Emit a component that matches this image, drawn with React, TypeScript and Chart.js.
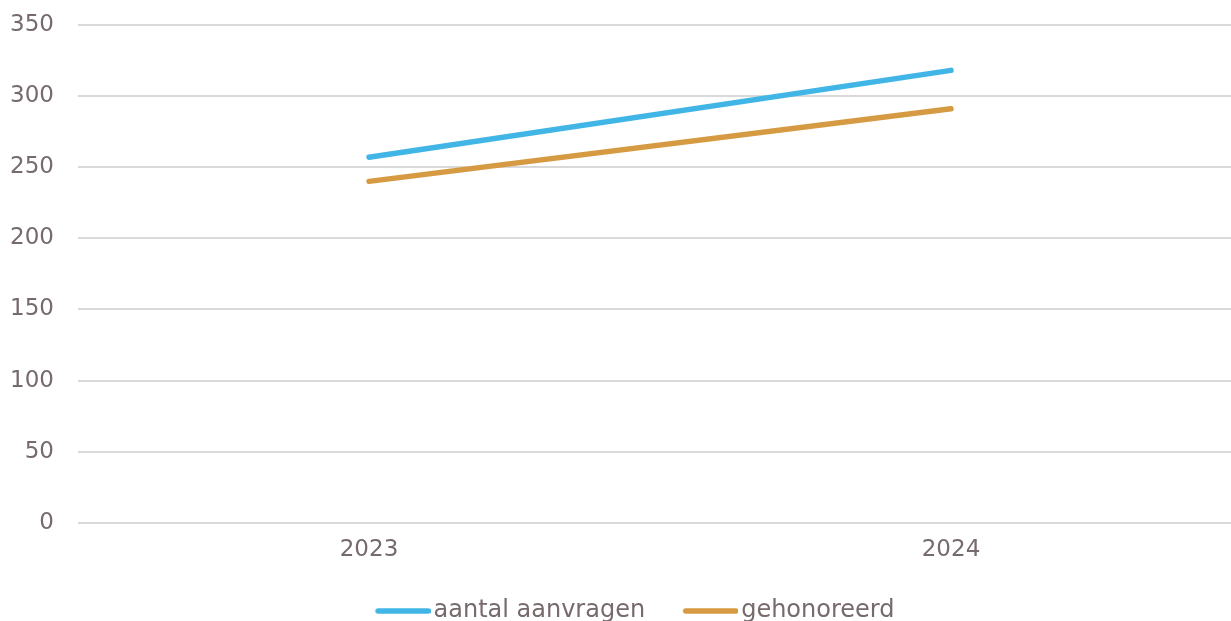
import React, { useEffect, useRef } from "react";
import { Chart, registerables } from "chart.js";

Chart.register(...registerables);

const categories = ["2023", "2024"];
const aanvragen = [257, 318];
const gehonoreerd = [240, 291];
const seriesNames = ["aantal aanvragen", "gehonoreerd"];
const seriesColors = ["#41b6e6", "#d69a42"];

const TEXT = "#766a6c";
const FONT = "'DejaVu Sans', Verdana, sans-serif";

// legend marker: a rounded line drawn on a small canvas, shifted right so it sits close to its text
function makeMarker(color: string): HTMLCanvasElement {
  const c = document.createElement("canvas");
  c.width = 82;
  c.height = 8;
  const ctx = c.getContext("2d")!;
  ctx.strokeStyle = color;
  ctx.lineWidth = 5.5;
  ctx.lineCap = "round";
  ctx.beginPath();
  ctx.moveTo(29.5, 4);
  ctx.lineTo(79.5, 4);
  ctx.stroke();
  return c;
}

export default function App() {
  const ref = useRef<HTMLCanvasElement | null>(null);
  useEffect(() => {
    document.body.style.margin = "0";
    const markers = seriesColors.map(makeMarker);
    const chart = new Chart(ref.current!, {
      type: "line",
      data: {
        labels: categories,
        datasets: [
          {
            label: seriesNames[0],
            data: aanvragen,
            borderColor: seriesColors[0],
            backgroundColor: seriesColors[0],
            borderWidth: 5.5,
            borderCapStyle: "round",
            pointRadius: 0,
            pointStyle: markers[0] as any,
            tension: 0,
          },
          {
            label: seriesNames[1],
            data: gehonoreerd,
            borderColor: seriesColors[1],
            backgroundColor: seriesColors[1],
            borderWidth: 5.5,
            borderCapStyle: "round",
            pointRadius: 0,
            pointStyle: markers[1] as any,
            tension: 0,
          },
        ],
      },
      options: {
        animation: false,
        responsive: false,
        layout: { padding: { left: 10, top: 10, right: 0, bottom: 0 } },
        plugins: {
          tooltip: { enabled: false },
          legend: {
            position: "bottom",
            labels: {
              usePointStyle: true,
              pointStyleWidth: 64,
              padding: 20,
              color: TEXT,
              font: { family: FONT, size: 24 },
            },
          },
        },
        scales: {
          x: {
            offset: true,
            grid: { display: false, drawTicks: false },
            border: { display: false },
            ticks: { color: TEXT, font: { family: FONT, size: 23 }, padding: 13 },
            afterFit: (s: any) => {
              s.height = 56;
            },
          },
          y: {
            min: 0,
            max: 350,
            ticks: { stepSize: 50, color: TEXT, font: { family: FONT, size: 23 }, padding: 24 },
            grid: { color: "#d9d9d9", lineWidth: 2, drawTicks: false },
            border: { display: false },
            afterFit: (s: any) => {
              s.width = 68;
            },
          },
        },
      },
    });
    return () => chart.destroy();
  }, []);
  return (
    <div style={{ position: "absolute", left: 0, top: 0, width: 1231, height: 621, overflow: "hidden", background: "#fff" }}>
      <canvas
        ref={ref}
        width={1242}
        height={646}
        style={{ display: "block", position: "absolute", left: 0, top: -13, width: 1242, height: 646 }}
      />
    </div>
  );
}
